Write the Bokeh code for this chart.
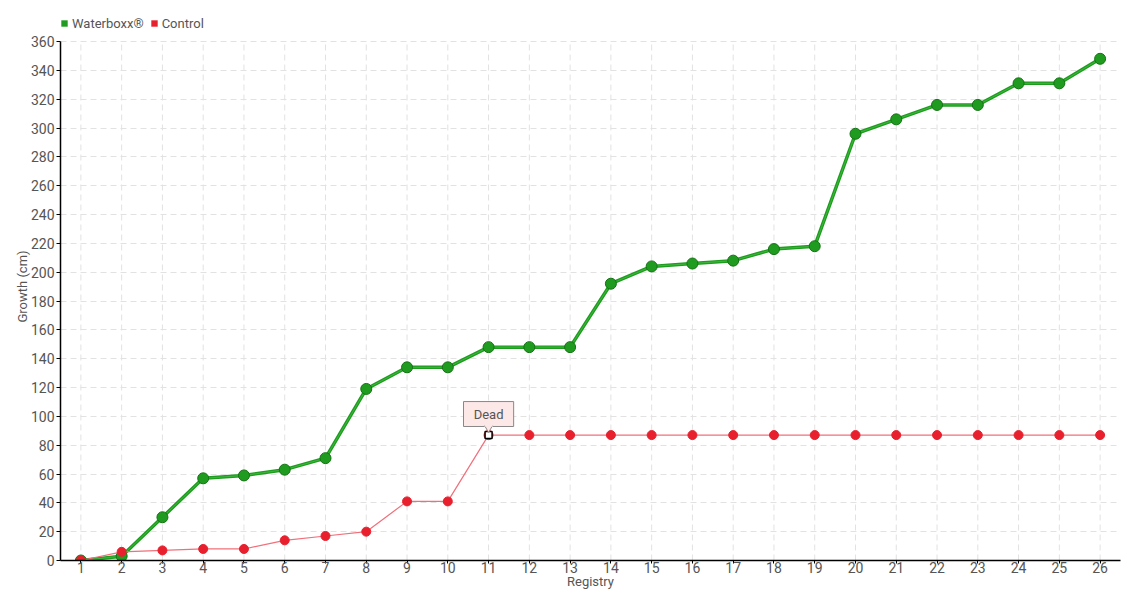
from bokeh.plotting import figure
from bokeh.models import ColumnDataSource, FixedTicker, Legend, LegendItem, Range1d, Label
from bokeh.embed import file_html
from bokeh.resources import INLINE

registry = list(range(1, 27))
waterboxx = [0, 3, 30, 57, 59, 63, 71, 119, 134, 134, 148, 148, 148, 192, 204, 206, 208,
             216, 218, 296, 306, 316, 316, 331, 331, 348]
control = [0, 6, 7, 8, 8, 14, 17, 20, 41, 41, 87, 87, 87, 87, 87, 87, 87, 87, 87, 87,
           87, 87, 87, 87, 87, 87]
y_ticks = list(range(0, 361, 20))
dead_index = 10

FONT = "Roboto"
GREY = "#555555"
GREEN = "#1f9c1f"
RED = "#e8202e"
Y_MAX = 360
Y_TOP = 380.12  # extra room above the plot for the legend

p = figure(frame_width=1060, frame_height=548, output_backend="svg", toolbar_location=None,
           x_range=Range1d(0.5, 26.5), y_range=Range1d(0, Y_TOP),
           min_border_left=60, min_border_right=20, min_border_top=12, min_border_bottom=40)
p.outline_line_color = None
p.background_fill_color = "white"

for ax in (p.xaxis[0], p.yaxis[0]):
    ax.axis_line_color = "black"
    ax.axis_line_width = 1.5
    ax.major_tick_line_color = "black"
    ax.minor_tick_line_color = None
    ax.major_tick_in = 0
    ax.major_tick_out = 4
    ax.major_label_text_font = FONT
    ax.major_label_text_font_size = "14px"
    ax.major_label_text_color = GREY
    ax.axis_label_text_font = FONT
    ax.axis_label_text_font_size = "13px"
    ax.axis_label_text_color = GREY
    ax.axis_label_text_font_style = "normal"

p.xaxis.ticker = FixedTicker(ticks=registry)
p.yaxis.ticker = FixedTicker(ticks=y_ticks)
p.yaxis.bounds = (0, Y_MAX)
p.xaxis.axis_label = "Registry"
p.yaxis.axis_label = "Growth (cm)"
p.xaxis.major_tick_out = 3
p.xaxis.major_label_standoff = -2
p.xaxis.axis_label_standoff = -2
p.yaxis.major_label_standoff = 2
p.yaxis.axis_label_standoff = -2

p.xgrid.visible = False
p.ygrid.ticker = FixedTicker(ticks=y_ticks)
p.ygrid.grid_line_color = "#e2e2e2"
p.ygrid.grid_line_dash = "6 4"
p.ygrid.grid_line_width = 1

# vertical grid lines stopping at the top tick
p.segment(x0=registry, y0=[0] * len(registry), x1=registry, y1=[Y_MAX] * len(registry),
          line_color="#e2e2e2", line_dash="6 4", line_width=1)

src = ColumnDataSource(dict(x=registry, w=waterboxx, c=control))

# square markers (hidden under the round markers) used as legend glyphs
gsq = p.scatter("x", "w", source=src, marker="square", size=6, fill_color=GREEN, line_color=None)
rsq = p.scatter("x", "c", source=src, marker="square", size=5, fill_color=RED, line_color=None)

p.line("x", "w", source=src, line_color=GREEN, line_width=3.5)
p.line("x", "w", source=src, line_color="#3cb83c", line_width=1)
p.scatter("x", "w", source=src, size=11, fill_color=GREEN, line_color="#137313", line_width=1)

p.line("x", "c", source=src, line_color="#f0707a", line_width=1.2)
p.scatter("x", "c", source=src, size=9, fill_color=RED, line_color=RED)

# Dead annotation
dx = registry[dead_index]
dy = control[dead_index]
p.scatter([dx], [dy], size=7, marker="square", fill_color="white", line_color="black", line_width=1.5)
p.rect([dx], [dy + 14.6], width=1.23, height=17.3, fill_color="#fde8e8", line_color="#888888", line_width=1)
p.scatter([dx], [dy + 5.0], size=8, marker="triangle", angle=3.14159, fill_color="#fde8e8", line_color="#888888")
p.rect([dx], [dy + 6.5], width=0.2, height=1.4, fill_color="#fde8e8", line_color=None)
p.add_layout(Label(x=dx, y=dy + 14.6, text="Dead", text_font=FONT, text_font_size="13px",
                   text_color=GREY, text_align="center", text_baseline="middle"))

legend = Legend(items=[LegendItem(label="Waterboxx®", renderers=[gsq]),
                       LegendItem(label="Control", renderers=[rsq])],
                orientation="horizontal", location=(-4, 529),
                label_text_font=FONT, label_text_font_size="13px", label_text_color=GREY,
                glyph_width=16, glyph_height=16, label_standoff=0, spacing=2,
                padding=2, margin=0, border_line_color=None, background_fill_alpha=0)
p.add_layout(legend, "center")

open("out.html", "w").write(file_html(p, INLINE))
